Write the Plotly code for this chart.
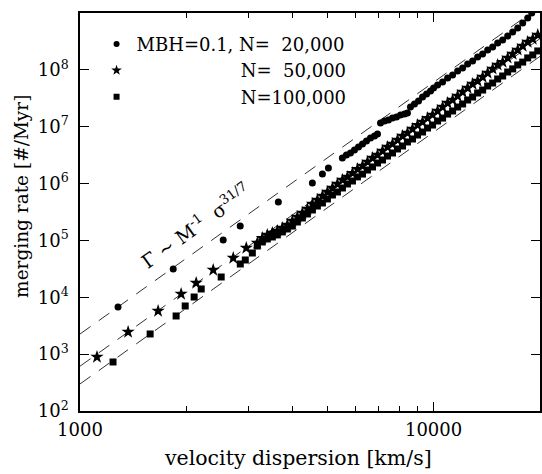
import numpy as np
import plotly.graph_objects as go

# ---- data ----
sigma_20k = [1281, 1835, 2541, 2839, 3639, 4541, 4849, 5041, 5521,
             5669, 5820, 5974, 6132, 6295, 6461, 6631, 6806, 6941,
             7078, 7265, 7456, 7654, 7856, 8063, 8276, 8436,
             8603, 8832, 9066, 9307, 9554, 9806, 10000,
             10264, 10605, 10956, 11320, 11695, 12082, 12482, 12896, 13323, 13765,
             14222, 14693, 15180, 15683, 16203, 16740, 17298, 17869, 18462, 18950]
rate_20k = [6760, 3.15e4, 1.02e5, 1.79e5, 4.74e5, 1.02e6, 1.47e6, 1.88e6, 2.82e6,
            3.18e6, 3.45e6, 3.90e6, 4.40e6, 4.97e6, 5.61e6, 6.33e6, 6.87e6, 7.45e6,
            1.16e7, 1.26e7, 1.31e7, 1.42e7, 1.48e7, 1.61e7, 1.67e7, 1.74e7,
            2.22e7, 2.51e7, 2.83e7, 3.33e7, 3.76e7, 4.25e7, 4.80e7,
            5.42e7, 6.12e7, 7.19e7, 8.12e7, 9.55e7, 1.08e8, 1.27e8, 1.43e8, 1.68e8, 1.90e8,
            2.24e8, 2.52e8, 2.97e8, 3.35e8, 3.94e8, 4.63e8, 5.45e8, 6.67e8, 8.17e8, 1.0e9]

sigma_dense = [3173, 3278, 3387, 3499, 3615, 3735, 3859, 3987, 4119, 4256,
               4397, 4543, 4693, 4849, 5009, 5176, 5346, 5524, 5706, 5896,
               6091, 6295, 6502, 6719, 6941, 7171, 7409, 7654, 7907, 8170,
               8436, 8717, 9008, 9307, 9616, 9935, 10264, 10605, 10956, 11320,
               11695, 12082, 12482, 12896, 13323, 13765, 14222, 14693, 15180, 15683,
               16203, 16740, 17298, 17869, 18462, 19080, 19710]

sigma_50k_sparse = [1117, 1368, 1663, 1932, 2131, 2381, 2713, 2953]
rate_50k_sparse = [891, 2455, 5741, 11430, 17850, 30200, 49100, 73600]
rate_50k_dense = [9.02e4, 1.10e5, 1.25e5, 1.35e5, 1.47e5, 1.66e5, 1.87e5, 2.20e5, 2.58e5, 3.04e5,
                  3.57e5, 4.38e5, 5.14e5, 6.05e5, 7.11e5, 8.36e5, 9.83e5, 1.16e6, 1.31e6, 1.53e6,
                  1.80e6, 2.04e6, 2.40e6, 2.82e6, 3.18e6, 3.74e6, 4.40e6, 4.97e6, 5.84e6, 6.87e6,
                  7.76e6, 9.12e6, 1.07e7, 1.21e7, 1.42e7, 1.61e7, 1.89e7, 2.22e7, 2.61e7, 2.95e7,
                  3.47e7, 4.08e7, 4.80e7, 5.64e7, 6.37e7, 7.49e7, 8.81e7, 1.04e8, 1.22e8, 1.37e8,
                  1.62e8, 1.90e8, 2.24e8, 2.63e8, 3.09e8, 3.49e8, 4.10e8]

sigma_100k_sparse = [1240, 1579, 1870, 1984, 2103, 2202, 2508, 2840, 2934, 3072]
rate_100k_sparse = [728, 2264, 4690, 7030, 10110, 14000, 22750, 38500, 45300, 60100]
rate_100k_dense = [7.98e4, 9.39e4, 1.06e5, 1.15e5, 1.25e5, 1.41e5, 1.59e5, 1.79e5, 2.11e5, 2.48e5,
                   2.92e5, 3.43e5, 4.03e5, 4.56e5, 5.36e5, 6.30e5, 7.11e5, 8.36e5, 9.83e5, 1.11e6,
                   1.31e6, 1.47e6, 1.73e6, 1.96e6, 2.30e6, 2.60e6, 3.05e6, 3.45e6, 4.06e6, 4.58e6,
                   5.39e6, 6.08e6, 7.15e6, 8.07e6, 9.49e6, 1.07e7, 1.26e7, 1.42e7, 1.67e7, 1.89e7,
                   2.22e7, 2.51e7, 2.95e7, 3.33e7, 3.92e7, 4.42e7, 5.20e7, 5.87e7, 6.91e7, 7.80e7,
                   9.17e7, 1.04e8, 1.22e8, 1.37e8, 1.62e8, 1.83e8, 2.15e8]

sigma_50k = sigma_50k_sparse + sigma_dense
rate_50k = rate_50k_sparse + rate_50k_dense
sigma_100k = sigma_100k_sparse + sigma_dense
rate_100k = rate_100k_sparse + rate_100k_dense

# power-law guide lines  Gamma ~ sigma^(31/7)
fit_slope = 31 / 7
fit_log_norm = [-9.932, -10.498, -10.81]

x_range = [1000, 20000]
y_tickvals = [1e2, 1e3, 1e4, 1e5, 1e6, 1e7, 1e8, 1e9]
y_ticktext = ["10<sup>%d</sup>" % k for k in range(2, 10)]
x_tickvals = [1000, 10000]
x_ticktext = ["1000", "10000"]
x_minor = [2000, 3000, 4000, 5000, 6000, 7000, 8000, 9000]

x_title = "velocity dispersion [km/s]"
y_title = "merging rate [#/Myr]"
law_text = "\u0393 ~ M<sup>-1</sup>  \u03c3<sup>31/7</sup>"

legend_names = ["MBH=0.1, N=\u200720,000",
                "\u2007" * 8 + "\u2002\u2009N=\u200750,000",
                "\u2007" * 8 + "\u2002\u2009N=100,000"]
legend_symbols = ["circle", "star", "square"]
legend_sizes = [6, 8, 6]

FONT = "DejaVu Serif"

fig = go.Figure()

xs = np.array(x_range, dtype=float)
for ln in fit_log_norm:
    fig.add_trace(go.Scatter(
        x=xs, y=10 ** ln * xs ** fit_slope, mode="lines",
        line=dict(color="#333333", width=1, dash="13px,10px"),
        showlegend=False, hoverinfo="skip"))

fig.add_trace(go.Scatter(x=sigma_20k, y=rate_20k, mode="markers", showlegend=False,
                         marker=dict(symbol="circle", size=7, color="black")))
fig.add_trace(go.Scatter(x=sigma_50k, y=rate_50k, mode="markers", showlegend=False,
                         marker=dict(symbol="star", size=10, color="black")))
fig.add_trace(go.Scatter(x=sigma_100k, y=rate_100k, mode="markers", showlegend=False,
                         marker=dict(symbol="square", size=7, color="black")))

# legend entries (no data of their own)
for name, sym, sz in zip(legend_names, legend_symbols, legend_sizes):
    fig.add_trace(go.Scatter(x=[None], y=[None], mode="markers", name=name,
                             marker=dict(symbol=sym, size=sz, color="black")))

fig.add_annotation(
    x=0.252, y=0.468, xref="paper", yref="paper", xanchor="center", yanchor="middle",
    text=law_text, textangle=-35.5, showarrow=False,
    font=dict(family=FONT, size=19, color="black"))

# axis titles
fig.add_annotation(
    x=0.474, y=-0.118, xref="paper", yref="paper", xanchor="center", yanchor="middle",
    text=x_title, showarrow=False, font=dict(family=FONT, size=20.5, color="black"))
fig.add_annotation(
    x=-0.126, y=0.538, xref="paper", yref="paper", xanchor="center", yanchor="middle",
    text=y_title, textangle=-90, showarrow=False,
    font=dict(family=FONT, size=18.5, color="black"))

axis_common = dict(
    showline=True, linecolor="black", linewidth=1.5, mirror="allticks",
    ticks="inside", tickcolor="black", tickwidth=1, showgrid=False, zeroline=False,
    tickfont=dict(family=FONT, size=18, color="black"), automargin=False,
)

fig.update_xaxes(
    type="log", range=[np.log10(x_range[0]), np.log10(x_range[1])],
    tickmode="array", tickvals=x_tickvals, ticktext=x_ticktext, ticklen=9,
    minor=dict(tickmode="array", tickvals=x_minor, ticks="inside", ticklen=5,
               tickcolor="black", showgrid=False),
    ticklabelstandoff=2,
    **axis_common)

fig.update_yaxes(
    type="log", range=[2, 9],
    tickmode="array", tickvals=y_tickvals, ticktext=y_ticktext, ticklen=9,
    ticklabelstandoff=6,
    **axis_common)

fig.update_layout(
    width=542, height=474,
    margin=dict(l=80, r=2, t=13, b=63),
    paper_bgcolor="white", plot_bgcolor="white",
    font=dict(family=FONT, size=18, color="black"),
    showlegend=True,
    legend=dict(x=0.036, y=0.968, xanchor="left", yanchor="top",
                bgcolor="rgba(0,0,0,0)", borderwidth=0,
                font=dict(family=FONT, size=18, color="black"),
                itemsizing="trace", tracegroupgap=0),
)

fig.write_html("out.html", config={"displayModeBar": False},
               post_script="document.body.style.margin='0px';")
